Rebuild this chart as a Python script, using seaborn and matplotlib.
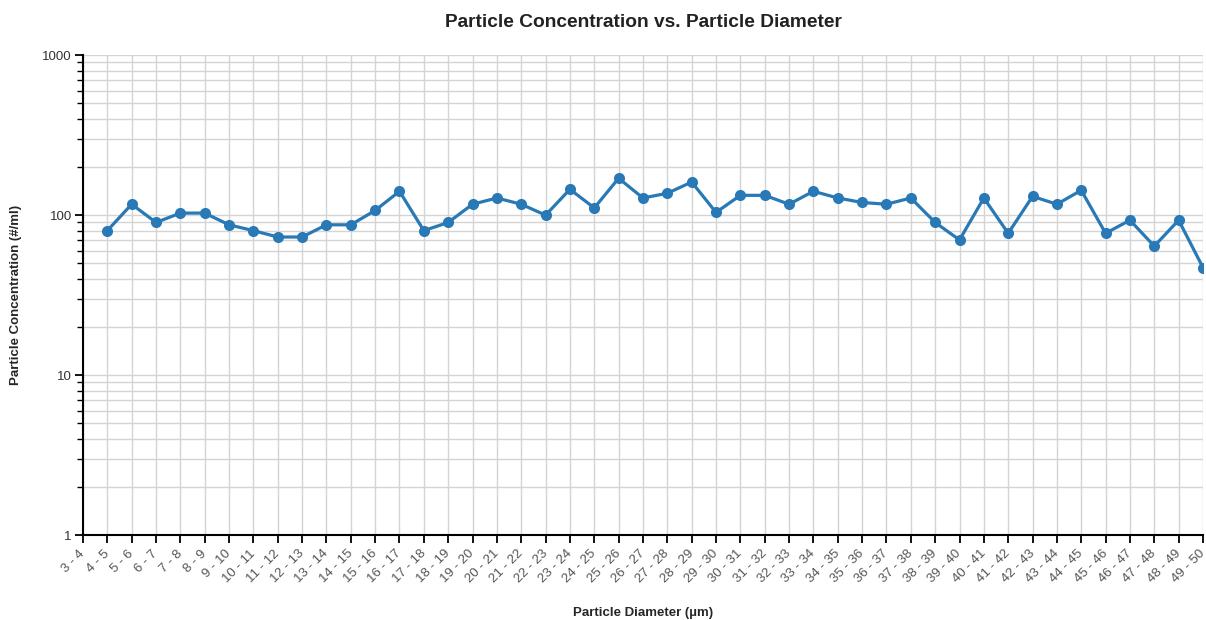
import matplotlib
matplotlib.use("Agg")
import matplotlib.pyplot as plt
import matplotlib.transforms as mtransforms
from matplotlib.ticker import LogLocator, FixedLocator, NullFormatter, FixedFormatter
import numpy as np
import pandas as pd
import seaborn as sns

# size bins, 3-4 up to 49-50 um
bin_labels = [f"{i} - {i + 1}" for i in range(3, 50)]

# particle concentration (#/ml); first bin has no reading
concentration = [
    np.nan, 80, 117, 90, 103, 103, 87, 80, 73, 73, 87, 87, 107, 141, 80, 90,
    117, 128, 117, 100, 145, 111, 170, 128, 137, 161, 104, 133, 133, 117,
    141, 128, 120, 117, 128, 90, 70, 128, 77, 131, 117, 143, 77, 93, 64, 93, 47,
]

df = pd.DataFrame({
    "pos": np.arange(len(bin_labels)),
    "bin": bin_labels,
    "conc": concentration,
}).dropna()

sns.set_theme(style="white")
plt.rcParams["font.family"] = ["Liberation Sans", "DejaVu Sans"]

fig = plt.figure(figsize=(12.06, 6.2), dpi=100)
ax = fig.add_axes([0.0688, 0.137, 0.9287, 0.774])

sns.lineplot(data=df, x="pos", y="conc", ax=ax, color="#2879b6", linewidth=2.3,
             marker="o", markersize=8, markeredgewidth=0, zorder=3)

ax.set_yscale("log")
ax.set_ylim(1, 1000)
ax.set_xlim(0, len(bin_labels) - 1)

ax.yaxis.set_major_locator(FixedLocator([1, 10, 100, 1000]))
ax.yaxis.set_major_formatter(FixedFormatter(["1", "10", "100", "1000"]))
ax.yaxis.set_minor_locator(LogLocator(base=10, subs=np.arange(2, 10)))
ax.yaxis.set_minor_formatter(NullFormatter())

ax.set_xticks(np.arange(len(bin_labels)))
ax.set_xticklabels(bin_labels, rotation=45, ha="right", va="center",
                   rotation_mode="anchor", color="#555555", fontsize=9.5)
shift = mtransforms.ScaledTranslation(-4 / 100, 0, fig.dpi_scale_trans)
for lbl in ax.get_xticklabels():
    lbl.set_transform(lbl.get_transform() + shift)

ax.grid(True, which="major", axis="both", color="#d4d4d4", linewidth=1)
ax.grid(True, which="minor", axis="y", color="#d4d4d4", linewidth=1)
ax.set_axisbelow(True)

for side in ["top", "right"]:
    ax.spines[side].set_visible(False)
for side in ["left", "bottom"]:
    ax.spines[side].set_color("black")
    ax.spines[side].set_linewidth(1.5)

ax.tick_params(axis="both", which="major", direction="out", length=6, width=1.3,
               color="black", bottom=True, left=True, pad=2)
ax.tick_params(axis="x", which="major", pad=6)
ax.tick_params(axis="y", which="minor", direction="out", length=4, width=1,
               color="black", left=True)
ax.tick_params(axis="y", labelsize=9.5, labelcolor="#333333")

ax.set_xlabel("Particle Diameter (µm)", fontsize=9.5, fontweight="bold")
ax.set_ylabel("Particle Concentration (#/ml)", fontsize=9.5, fontweight="bold")
ax.xaxis.set_label_coords(0.5, -0.149)
ax.yaxis.set_label_coords(-0.0545, 0.5)
ax.set_title("Particle Concentration vs. Particle Diameter", fontsize=13.8,
             fontweight="bold", color="#222222", pad=20)

fig.savefig("out.png", dpi=100)
